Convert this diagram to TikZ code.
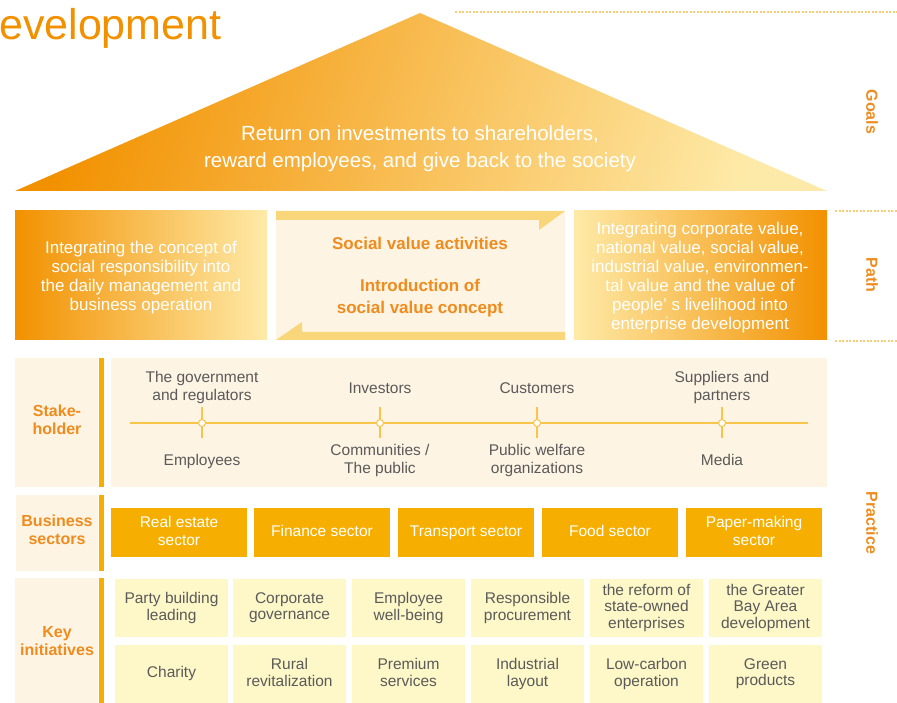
\documentclass[tikz,border=0pt]{standalone}
\usepackage{fontspec}
\setmainfont{Liberation Sans}
\definecolor{deeporange}{HTML}{F29100}
\definecolor{lightyellow}{HTML}{FEEAA8}
\definecolor{cream}{HTML}{FDF4E3}
\definecolor{gold}{HTML}{F6AF00}
\definecolor{paleyellow}{HTML}{FEF8C8}
\definecolor{labelorange}{HTML}{EE8C1F}
\definecolor{graytext}{HTML}{5A5A5A}
\definecolor{lineyellow}{HTML}{F8C44A}
\definecolor{dashcol}{HTML}{F9CD75}
\definecolor{arrowbar}{HTML}{F9D67A}
\newcommand{\boxstrut}{\rule[-3.5pt]{0pt}{14.5pt}}

\begin{document}
\begin{tikzpicture}[x=1pt,y=-1pt,
    strutted/.style={execute at begin node=\strut, execute at end node=\strut},
    lowered/.style={strutted, yshift=-2pt},
    boxtext/.style={execute at begin node=\boxstrut, execute at end node=\boxstrut},
    goaltxt/.style={text=white, align=center, lowered, font=\fontsize{20.5}{27}\selectfont},
    pathtxt/.style={text=white, align=center, lowered, font=\fontsize{17}{19}\selectfont},
    midtxt/.style={text=labelorange, align=center, lowered, font=\bfseries\fontsize{17}{22}\selectfont},
    sidetxt/.style={text=labelorange, rotate=-90, font=\bfseries\fontsize{16}{18}\selectfont},
    rowlabel/.style={text=labelorange, align=center, lowered, font=\bfseries\fontsize{16}{18}\selectfont},
    holder/.style={text=graytext, align=center, lowered, font=\fontsize{15.5}{18}\selectfont},
    sectorbox/.style={fill=gold, text=white, align=center, inner sep=0, boxtext,
        minimum width=136, minimum height=49, font=\fontsize{15.5}{18}\selectfont},
    initbox/.style={fill=paleyellow, text=graytext, align=center, inner sep=0, boxtext,
        minimum width=113, minimum height=58, font=\fontsize{15.5}{16.5}\selectfont},
    dotline/.style={dashcol, line width=1.2, dash pattern=on 2pt off 1.5pt}]
    \useasboundingbox (0,0) rectangle (897,703);

    % title and roof
    \node[anchor=base west, text=deeporange, inner sep=0, font=\fontsize{43}{50}\selectfont] (title) at (-1,40) {evelopment};
    \shade[left color=deeporange, right color=lightyellow, shading angle=72] (420,13) -- (827,191) -- (15,191) -- cycle;
    \node[goaltxt] (goal) at (420,149) {Return on investments to shareholders,\\reward employees, and give back to the society};

    % path row
    \shade[left color=deeporange, right color=lightyellow] (15,211) rectangle (267,340);
    \node[pathtxt] (pathleft) at (141,277) {Integrating the concept of\\social responsibility into\\the daily management and\\business operation};
    \fill[cream] (276,211) rectangle (565,340);
    \fill[arrowbar] (276,211) -- (565,211) -- (539,230) -- (539,220) -- (276,220) -- cycle;
    \fill[arrowbar] (276,340) -- (302,322) -- (302,332) -- (565,332) -- (565,340) -- cycle;
    \node[midtxt] (activity) at (420,243) {Social value activities};
    \node[midtxt] (concept) at (420,298) {Introduction of\\social value concept};
    \shade[left color=lightyellow, right color=deeporange] (574,211) rectangle (827,340);
    \node[pathtxt] (pathright) at (700,277) {Integrating corporate value,\\national value, social value,\\industrial value, environmen-\\tal value and the value of\\people’ s livelihood into\\enterprise development};

    % side labels
    \draw[dotline] (455,12) -- (897,12);
    \draw[dotline] (835,211) -- (897,211);
    \draw[dotline] (835,341) -- (897,341);
    \node[sidetxt] (goals) at (872,112) {Goals};
    \node[sidetxt] (path) at (872,275) {Path};
    \node[sidetxt] (practice) at (872,523) {Practice};

    % stakeholder row
    \fill[cream] (15,358) rectangle (98,487);
    \fill[gold] (99,358) rectangle (104,487);
    \fill[cream] (111,358) rectangle (827,487);
    \node[rowlabel] (stake) at (57,420) {Stake-\\holder};
    \draw[lineyellow, line width=1.2] (130,423) -- (808,423);
    \foreach \x in {202,380,537,722} {
        \draw[lineyellow, line width=1.2] (\x,407) -- (\x,438);
        \filldraw[draw=lineyellow, fill=white, line width=1] (\x,423) circle (3.5);
    }
    \node[holder] (gov) at (202,387) {The government\\and regulators};
    \node[holder] (investors) at (380,388) {Investors};
    \node[holder] (customers) at (537,388) {Customers};
    \node[holder] (suppliers) at (722,387) {Suppliers and\\partners};
    \node[holder] (employees) at (202,460) {Employees};
    \node[holder] (public) at (380,460) {Communities /\\The public};
    \node[holder] (welfare) at (537,460) {Public welfare\\organizations};
    \node[holder] (media) at (722,460) {Media};

    % business sectors row
    \fill[cream] (16,495) rectangle (98,571);
    \fill[gold] (99,495) rectangle (104,571);
    \node[rowlabel] (business) at (57,530) {Business\\sectors};
    \node[sectorbox] (realestate) at (179,532.5) {Real estate\\sector};
    \node[sectorbox] (finance) at (322,532.5) {Finance sector};
    \node[sectorbox] (transport) at (466,532.5) {Transport sector};
    \node[sectorbox] (food) at (610,532.5) {Food sector};
    \node[sectorbox] (paper) at (754,532.5) {Paper-making\\sector};

    % key initiatives row
    \fill[cream] (15,578) rectangle (98,703);
    \fill[gold] (99,578) rectangle (104,703);
    \node[rowlabel] (keyinit) at (57,642) {Key\\initiatives};
    \node[initbox] (party) at (171.5,608) {Party building\\leading};
    \node[initbox] (governance) at (289.5,608) {Corporate\\governance};
    \node[initbox] (wellbeing) at (408.5,608) {Employee\\well-being};
    \node[initbox] (procurement) at (527.5,608) {Responsible\\procurement};
    \node[initbox] (reform) at (646.5,608) {the reform of\\state-owned\\enterprises};
    \node[initbox] (bayarea) at (765.5,608) {the Greater\\Bay Area\\development};
    \node[initbox] (charity) at (171.5,674) {Charity};
    \node[initbox] (rural) at (289.5,674) {Rural\\revitalization};
    \node[initbox] (premium) at (408.5,674) {Premium\\services};
    \node[initbox] (layout) at (527.5,674) {Industrial\\layout};
    \node[initbox] (lowcarbon) at (646.5,674) {Low-carbon\\operation};
    \node[initbox] (green) at (765.5,674) {Green\\products};
\end{tikzpicture}
\end{document}
